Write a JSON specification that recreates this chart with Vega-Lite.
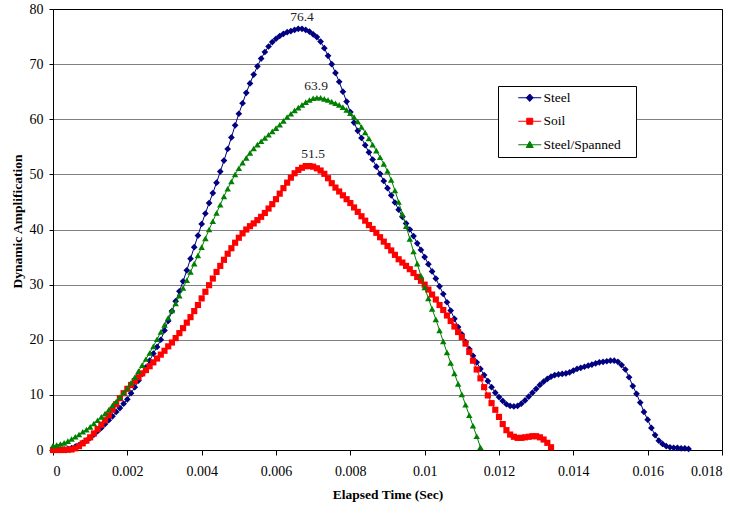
{
  "$schema": "https://vega.github.io/schema/vega-lite/v6.json",
  "width": 669,
  "height": 441,
  "autosize": {"type": "none"},
  "padding": {"left": 53, "top": 9, "right": 18, "bottom": 55},
  "background": "white",
  "config": {
    "font": "Liberation Serif",
    "view": {"stroke": "#000", "strokeWidth": 1},
    "axis": {
      "labelFont": "Liberation Serif", "labelFontSize": 14, "labelColor": "#000",
      "titleFont": "Liberation Serif", "titleFontSize": 13.5, "titleFontWeight": "bold", "titleColor": "#000",
      "domainColor": "#000", "tickColor": "#000", "domainWidth": 1, "tickWidth": 1
    },
    "legend": {"labelFont": "Liberation Serif"},
    "text": {"font": "Liberation Serif"}
  },
  "data": {"values": [
    {"s":"Steel","t":0,"v":0},{"s":"Steel","t":0.0001,"v":0},{"s":"Steel","t":0.0002,"v":0.05},{"s":"Steel","t":0.0003,"v":0.1},{"s":"Steel","t":0.0004,"v":0.2},{"s":"Steel","t":0.0005,"v":0.35},{"s":"Steel","t":0.0006,"v":0.6},{"s":"Steel","t":0.0007,"v":0.9},{"s":"Steel","t":0.0008,"v":1.3},{"s":"Steel","t":0.0009,"v":1.7},
    {"s":"Steel","t":0.001,"v":2.2},{"s":"Steel","t":0.0011,"v":2.8},{"s":"Steel","t":0.0012,"v":3.4},{"s":"Steel","t":0.0013,"v":4.0},{"s":"Steel","t":0.0014,"v":4.7},{"s":"Steel","t":0.0015,"v":5.4},{"s":"Steel","t":0.0016,"v":6.1},{"s":"Steel","t":0.0017,"v":6.9},{"s":"Steel","t":0.0018,"v":7.6},{"s":"Steel","t":0.0019,"v":8.4},
    {"s":"Steel","t":0.002,"v":9.2},{"s":"Steel","t":0.0021,"v":10.3},{"s":"Steel","t":0.0022,"v":11.4},{"s":"Steel","t":0.0023,"v":12.6},{"s":"Steel","t":0.0024,"v":13.8},{"s":"Steel","t":0.0025,"v":15.0},{"s":"Steel","t":0.0026,"v":16.2},{"s":"Steel","t":0.0027,"v":17.5},{"s":"Steel","t":0.0028,"v":18.7},{"s":"Steel","t":0.0029,"v":20.0},
    {"s":"Steel","t":0.003,"v":21.7},{"s":"Steel","t":0.0031,"v":23.4},{"s":"Steel","t":0.0032,"v":25.2},{"s":"Steel","t":0.0033,"v":27.0},{"s":"Steel","t":0.0034,"v":28.8},{"s":"Steel","t":0.0035,"v":30.6},{"s":"Steel","t":0.0036,"v":32.6},{"s":"Steel","t":0.0037,"v":34.7},{"s":"Steel","t":0.0038,"v":36.8},{"s":"Steel","t":0.0039,"v":38.9},
    {"s":"Steel","t":0.004,"v":41.0},{"s":"Steel","t":0.0041,"v":42.9},{"s":"Steel","t":0.0042,"v":44.8},{"s":"Steel","t":0.0043,"v":46.6},{"s":"Steel","t":0.0044,"v":48.5},{"s":"Steel","t":0.0045,"v":50.5},{"s":"Steel","t":0.0046,"v":52.5},{"s":"Steel","t":0.0047,"v":54.6},{"s":"Steel","t":0.0048,"v":56.7},{"s":"Steel","t":0.0049,"v":58.9},
    {"s":"Steel","t":0.005,"v":61.0},{"s":"Steel","t":0.0051,"v":62.9},{"s":"Steel","t":0.0052,"v":64.8},{"s":"Steel","t":0.0053,"v":66.5},{"s":"Steel","t":0.0054,"v":68.1},{"s":"Steel","t":0.0055,"v":69.6},{"s":"Steel","t":0.0056,"v":71.0},{"s":"Steel","t":0.0057,"v":72.2},{"s":"Steel","t":0.0058,"v":73.2},{"s":"Steel","t":0.0059,"v":74.0},
    {"s":"Steel","t":0.006,"v":74.6},{"s":"Steel","t":0.0061,"v":75.1},{"s":"Steel","t":0.0062,"v":75.5},{"s":"Steel","t":0.0063,"v":75.8},{"s":"Steel","t":0.0064,"v":76.0},{"s":"Steel","t":0.0065,"v":76.2},{"s":"Steel","t":0.0066,"v":76.4},{"s":"Steel","t":0.0067,"v":76.4},{"s":"Steel","t":0.0068,"v":76.2},{"s":"Steel","t":0.0069,"v":75.9},
    {"s":"Steel","t":0.007,"v":75.4},{"s":"Steel","t":0.0071,"v":74.9},{"s":"Steel","t":0.0072,"v":74.1},{"s":"Steel","t":0.0073,"v":72.9},{"s":"Steel","t":0.0074,"v":71.5},{"s":"Steel","t":0.0075,"v":70.0},{"s":"Steel","t":0.0076,"v":68.4},{"s":"Steel","t":0.0077,"v":66.8},{"s":"Steel","t":0.0078,"v":65.0},{"s":"Steel","t":0.0079,"v":63.2},
    {"s":"Steel","t":0.008,"v":61.3},{"s":"Steel","t":0.0081,"v":59.4},{"s":"Steel","t":0.0082,"v":57.9},{"s":"Steel","t":0.0083,"v":56.6},{"s":"Steel","t":0.0084,"v":55.3},{"s":"Steel","t":0.0085,"v":54.0},{"s":"Steel","t":0.0086,"v":52.7},{"s":"Steel","t":0.0087,"v":51.4},{"s":"Steel","t":0.0088,"v":50.1},{"s":"Steel","t":0.0089,"v":48.8},
    {"s":"Steel","t":0.009,"v":47.5},{"s":"Steel","t":0.0091,"v":46.2},{"s":"Steel","t":0.0092,"v":44.9},{"s":"Steel","t":0.0093,"v":43.6},{"s":"Steel","t":0.0094,"v":42.3},{"s":"Steel","t":0.0095,"v":41.1},{"s":"Steel","t":0.0096,"v":40.0},{"s":"Steel","t":0.0097,"v":38.8},{"s":"Steel","t":0.0098,"v":37.5},{"s":"Steel","t":0.0099,"v":36.3},
    {"s":"Steel","t":0.01,"v":35.0},{"s":"Steel","t":0.0101,"v":33.7},{"s":"Steel","t":0.0102,"v":32.4},{"s":"Steel","t":0.0103,"v":31.1},{"s":"Steel","t":0.0104,"v":29.7},{"s":"Steel","t":0.0105,"v":28.3},{"s":"Steel","t":0.0106,"v":26.8},{"s":"Steel","t":0.0107,"v":25.3},{"s":"Steel","t":0.0108,"v":23.8},{"s":"Steel","t":0.0109,"v":22.3},
    {"s":"Steel","t":0.011,"v":21.0},{"s":"Steel","t":0.0111,"v":19.6},{"s":"Steel","t":0.0112,"v":18.3},{"s":"Steel","t":0.0113,"v":17.1},{"s":"Steel","t":0.0114,"v":15.9},{"s":"Steel","t":0.0115,"v":14.7},{"s":"Steel","t":0.0116,"v":13.6},{"s":"Steel","t":0.0117,"v":12.5},{"s":"Steel","t":0.0118,"v":11.4},{"s":"Steel","t":0.0119,"v":10.4},
    {"s":"Steel","t":0.012,"v":9.6},{"s":"Steel","t":0.0121,"v":8.9},{"s":"Steel","t":0.0122,"v":8.3},{"s":"Steel","t":0.0123,"v":8.0},{"s":"Steel","t":0.0124,"v":7.9},{"s":"Steel","t":0.0125,"v":8.0},{"s":"Steel","t":0.0126,"v":8.4},{"s":"Steel","t":0.0127,"v":9.0},{"s":"Steel","t":0.0128,"v":9.7},{"s":"Steel","t":0.0129,"v":10.4},
    {"s":"Steel","t":0.013,"v":11.1},{"s":"Steel","t":0.0131,"v":11.8},{"s":"Steel","t":0.0132,"v":12.4},{"s":"Steel","t":0.0133,"v":12.9},{"s":"Steel","t":0.0134,"v":13.3},{"s":"Steel","t":0.0135,"v":13.6},{"s":"Steel","t":0.0136,"v":13.7},{"s":"Steel","t":0.0137,"v":13.8},{"s":"Steel","t":0.0138,"v":13.9},{"s":"Steel","t":0.0139,"v":14.1},
    {"s":"Steel","t":0.014,"v":14.4},{"s":"Steel","t":0.0141,"v":14.7},{"s":"Steel","t":0.0142,"v":14.9},{"s":"Steel","t":0.0143,"v":15.1},{"s":"Steel","t":0.0144,"v":15.3},{"s":"Steel","t":0.0145,"v":15.5},{"s":"Steel","t":0.0146,"v":15.7},{"s":"Steel","t":0.0147,"v":15.9},{"s":"Steel","t":0.0148,"v":16.0},{"s":"Steel","t":0.0149,"v":16.1},
    {"s":"Steel","t":0.015,"v":16.2},{"s":"Steel","t":0.0151,"v":16.2},{"s":"Steel","t":0.0152,"v":16.0},{"s":"Steel","t":0.0153,"v":15.4},{"s":"Steel","t":0.0154,"v":14.6},{"s":"Steel","t":0.0155,"v":13.2},{"s":"Steel","t":0.0156,"v":11.6},{"s":"Steel","t":0.0157,"v":10.2},{"s":"Steel","t":0.0158,"v":8.6},{"s":"Steel","t":0.0159,"v":6.9},
    {"s":"Steel","t":0.016,"v":5.5},{"s":"Steel","t":0.0161,"v":4.0},{"s":"Steel","t":0.0162,"v":2.7},{"s":"Steel","t":0.0163,"v":1.7},{"s":"Steel","t":0.0164,"v":1.1},{"s":"Steel","t":0.0165,"v":0.7},{"s":"Steel","t":0.0166,"v":0.5},{"s":"Steel","t":0.0167,"v":0.4},{"s":"Steel","t":0.0168,"v":0.4},{"s":"Steel","t":0.0169,"v":0.3},
    {"s":"Steel","t":0.017,"v":0.3},{"s":"Steel","t":0.0171,"v":0.2},

    {"s":"Soil","t":0,"v":0},{"s":"Soil","t":0.0001,"v":0},{"s":"Soil","t":0.0002,"v":0},{"s":"Soil","t":0.0003,"v":0},{"s":"Soil","t":0.0004,"v":0.05},{"s":"Soil","t":0.0005,"v":0.1},{"s":"Soil","t":0.0006,"v":0.3},{"s":"Soil","t":0.0007,"v":0.7},{"s":"Soil","t":0.0008,"v":1.2},{"s":"Soil","t":0.0009,"v":1.7},
    {"s":"Soil","t":0.001,"v":2.3},{"s":"Soil","t":0.0011,"v":3.0},{"s":"Soil","t":0.0012,"v":3.8},{"s":"Soil","t":0.0013,"v":4.6},{"s":"Soil","t":0.0014,"v":5.4},{"s":"Soil","t":0.0015,"v":6.3},{"s":"Soil","t":0.0016,"v":7.3},{"s":"Soil","t":0.0017,"v":8.3},{"s":"Soil","t":0.0018,"v":9.4},{"s":"Soil","t":0.0019,"v":10.3},
    {"s":"Soil","t":0.002,"v":11.1},{"s":"Soil","t":0.0021,"v":11.8},{"s":"Soil","t":0.0022,"v":12.5},{"s":"Soil","t":0.0023,"v":13.2},{"s":"Soil","t":0.0024,"v":13.9},{"s":"Soil","t":0.0025,"v":14.5},{"s":"Soil","t":0.0026,"v":15.2},{"s":"Soil","t":0.0027,"v":15.9},{"s":"Soil","t":0.0028,"v":16.6},{"s":"Soil","t":0.0029,"v":17.3},
    {"s":"Soil","t":0.003,"v":18.0},{"s":"Soil","t":0.0031,"v":18.8},{"s":"Soil","t":0.0032,"v":19.5},{"s":"Soil","t":0.0033,"v":20.3},{"s":"Soil","t":0.0034,"v":21.2},{"s":"Soil","t":0.0035,"v":22.1},{"s":"Soil","t":0.0036,"v":23.1},{"s":"Soil","t":0.0037,"v":24.1},{"s":"Soil","t":0.0038,"v":25.2},{"s":"Soil","t":0.0039,"v":26.3},
    {"s":"Soil","t":0.004,"v":27.5},{"s":"Soil","t":0.0041,"v":28.7},{"s":"Soil","t":0.0042,"v":29.9},{"s":"Soil","t":0.0043,"v":31.1},{"s":"Soil","t":0.0044,"v":32.3},{"s":"Soil","t":0.0045,"v":33.4},{"s":"Soil","t":0.0046,"v":34.5},{"s":"Soil","t":0.0047,"v":35.6},{"s":"Soil","t":0.0048,"v":36.6},{"s":"Soil","t":0.0049,"v":37.6},
    {"s":"Soil","t":0.005,"v":38.5},{"s":"Soil","t":0.0051,"v":39.3},{"s":"Soil","t":0.0052,"v":40.0},{"s":"Soil","t":0.0053,"v":40.6},{"s":"Soil","t":0.0054,"v":41.1},{"s":"Soil","t":0.0055,"v":41.7},{"s":"Soil","t":0.0056,"v":42.3},{"s":"Soil","t":0.0057,"v":43.0},{"s":"Soil","t":0.0058,"v":43.8},{"s":"Soil","t":0.0059,"v":44.6},
    {"s":"Soil","t":0.006,"v":45.5},{"s":"Soil","t":0.0061,"v":46.5},{"s":"Soil","t":0.0062,"v":47.5},{"s":"Soil","t":0.0063,"v":48.5},{"s":"Soil","t":0.0064,"v":49.4},{"s":"Soil","t":0.0065,"v":50.2},{"s":"Soil","t":0.0066,"v":50.8},{"s":"Soil","t":0.0067,"v":51.2},{"s":"Soil","t":0.0068,"v":51.5},{"s":"Soil","t":0.0069,"v":51.5},
    {"s":"Soil","t":0.007,"v":51.4},{"s":"Soil","t":0.0071,"v":51.1},{"s":"Soil","t":0.0072,"v":50.7},{"s":"Soil","t":0.0073,"v":50.1},{"s":"Soil","t":0.0074,"v":49.3},{"s":"Soil","t":0.0075,"v":48.4},{"s":"Soil","t":0.0076,"v":47.6},{"s":"Soil","t":0.0077,"v":46.9},{"s":"Soil","t":0.0078,"v":46.2},{"s":"Soil","t":0.0079,"v":45.5},
    {"s":"Soil","t":0.008,"v":44.8},{"s":"Soil","t":0.0081,"v":44.0},{"s":"Soil","t":0.0082,"v":43.2},{"s":"Soil","t":0.0083,"v":42.4},{"s":"Soil","t":0.0084,"v":41.6},{"s":"Soil","t":0.0085,"v":40.8},{"s":"Soil","t":0.0086,"v":40.1},{"s":"Soil","t":0.0087,"v":39.4},{"s":"Soil","t":0.0088,"v":38.6},{"s":"Soil","t":0.0089,"v":37.8},
    {"s":"Soil","t":0.009,"v":37.0},{"s":"Soil","t":0.0091,"v":36.2},{"s":"Soil","t":0.0092,"v":35.4},{"s":"Soil","t":0.0093,"v":34.6},{"s":"Soil","t":0.0094,"v":34.0},{"s":"Soil","t":0.0095,"v":33.4},{"s":"Soil","t":0.0096,"v":32.8},{"s":"Soil","t":0.0097,"v":32.1},{"s":"Soil","t":0.0098,"v":31.4},{"s":"Soil","t":0.0099,"v":30.7},
    {"s":"Soil","t":0.01,"v":30.0},{"s":"Soil","t":0.0101,"v":29.1},{"s":"Soil","t":0.0102,"v":28.2},{"s":"Soil","t":0.0103,"v":27.3},{"s":"Soil","t":0.0104,"v":26.3},{"s":"Soil","t":0.0105,"v":25.4},{"s":"Soil","t":0.0106,"v":24.4},{"s":"Soil","t":0.0107,"v":23.4},{"s":"Soil","t":0.0108,"v":22.4},{"s":"Soil","t":0.0109,"v":21.4},
    {"s":"Soil","t":0.011,"v":20.5},{"s":"Soil","t":0.0111,"v":19.3},{"s":"Soil","t":0.0112,"v":17.8},{"s":"Soil","t":0.0113,"v":16.2},{"s":"Soil","t":0.0114,"v":14.6},{"s":"Soil","t":0.0115,"v":13.0},{"s":"Soil","t":0.0116,"v":11.4},{"s":"Soil","t":0.0117,"v":9.9},{"s":"Soil","t":0.0118,"v":8.5},{"s":"Soil","t":0.0119,"v":7.3},
    {"s":"Soil","t":0.012,"v":6.0},{"s":"Soil","t":0.0121,"v":4.7},{"s":"Soil","t":0.0122,"v":3.6},{"s":"Soil","t":0.0123,"v":2.8},{"s":"Soil","t":0.0124,"v":2.4},{"s":"Soil","t":0.0125,"v":2.2},{"s":"Soil","t":0.0126,"v":2.2},{"s":"Soil","t":0.0127,"v":2.3},{"s":"Soil","t":0.0128,"v":2.4},{"s":"Soil","t":0.0129,"v":2.5},
    {"s":"Soil","t":0.013,"v":2.5},{"s":"Soil","t":0.0131,"v":2.3},{"s":"Soil","t":0.0132,"v":1.9},{"s":"Soil","t":0.0133,"v":1.3},{"s":"Soil","t":0.0134,"v":0.5},

    {"s":"Steel/Spanned","t":0,"v":0.8},{"s":"Steel/Spanned","t":0.0001,"v":0.9},{"s":"Steel/Spanned","t":0.0002,"v":1.1},{"s":"Steel/Spanned","t":0.0003,"v":1.3},{"s":"Steel/Spanned","t":0.0004,"v":1.6},{"s":"Steel/Spanned","t":0.0005,"v":2.0},{"s":"Steel/Spanned","t":0.0006,"v":2.4},{"s":"Steel/Spanned","t":0.0007,"v":2.8},{"s":"Steel/Spanned","t":0.0008,"v":3.3},{"s":"Steel/Spanned","t":0.0009,"v":3.7},
    {"s":"Steel/Spanned","t":0.001,"v":4.2},{"s":"Steel/Spanned","t":0.0011,"v":4.8},{"s":"Steel/Spanned","t":0.0012,"v":5.4},{"s":"Steel/Spanned","t":0.0013,"v":6.0},{"s":"Steel/Spanned","t":0.0014,"v":6.6},{"s":"Steel/Spanned","t":0.0015,"v":7.3},{"s":"Steel/Spanned","t":0.0016,"v":8.1},{"s":"Steel/Spanned","t":0.0017,"v":8.8},{"s":"Steel/Spanned","t":0.0018,"v":9.6},{"s":"Steel/Spanned","t":0.0019,"v":10.4},
    {"s":"Steel/Spanned","t":0.002,"v":11.2},{"s":"Steel/Spanned","t":0.0021,"v":12.2},{"s":"Steel/Spanned","t":0.0022,"v":13.2},{"s":"Steel/Spanned","t":0.0023,"v":14.3},{"s":"Steel/Spanned","t":0.0024,"v":15.4},{"s":"Steel/Spanned","t":0.0025,"v":16.5},{"s":"Steel/Spanned","t":0.0026,"v":17.6},{"s":"Steel/Spanned","t":0.0027,"v":18.8},{"s":"Steel/Spanned","t":0.0028,"v":20.1},{"s":"Steel/Spanned","t":0.0029,"v":21.4},
    {"s":"Steel/Spanned","t":0.003,"v":22.7},{"s":"Steel/Spanned","t":0.0031,"v":24.0},{"s":"Steel/Spanned","t":0.0032,"v":25.3},{"s":"Steel/Spanned","t":0.0033,"v":26.6},{"s":"Steel/Spanned","t":0.0034,"v":28.0},{"s":"Steel/Spanned","t":0.0035,"v":29.4},{"s":"Steel/Spanned","t":0.0036,"v":30.8},{"s":"Steel/Spanned","t":0.0037,"v":32.3},{"s":"Steel/Spanned","t":0.0038,"v":33.8},{"s":"Steel/Spanned","t":0.0039,"v":35.3},
    {"s":"Steel/Spanned","t":0.004,"v":36.8},{"s":"Steel/Spanned","t":0.0041,"v":38.4},{"s":"Steel/Spanned","t":0.0042,"v":40.0},{"s":"Steel/Spanned","t":0.0043,"v":41.5},{"s":"Steel/Spanned","t":0.0044,"v":43.0},{"s":"Steel/Spanned","t":0.0045,"v":44.5},{"s":"Steel/Spanned","t":0.0046,"v":46.0},{"s":"Steel/Spanned","t":0.0047,"v":47.4},{"s":"Steel/Spanned","t":0.0048,"v":48.7},{"s":"Steel/Spanned","t":0.0049,"v":50.0},
    {"s":"Steel/Spanned","t":0.005,"v":51.1},{"s":"Steel/Spanned","t":0.0051,"v":52.1},{"s":"Steel/Spanned","t":0.0052,"v":53.0},{"s":"Steel/Spanned","t":0.0053,"v":53.9},{"s":"Steel/Spanned","t":0.0054,"v":54.7},{"s":"Steel/Spanned","t":0.0055,"v":55.4},{"s":"Steel/Spanned","t":0.0056,"v":56.0},{"s":"Steel/Spanned","t":0.0057,"v":56.6},{"s":"Steel/Spanned","t":0.0058,"v":57.2},{"s":"Steel/Spanned","t":0.0059,"v":57.8},
    {"s":"Steel/Spanned","t":0.006,"v":58.4},{"s":"Steel/Spanned","t":0.0061,"v":59.0},{"s":"Steel/Spanned","t":0.0062,"v":59.7},{"s":"Steel/Spanned","t":0.0063,"v":60.4},{"s":"Steel/Spanned","t":0.0064,"v":61.0},{"s":"Steel/Spanned","t":0.0065,"v":61.6},{"s":"Steel/Spanned","t":0.0066,"v":62.1},{"s":"Steel/Spanned","t":0.0067,"v":62.6},{"s":"Steel/Spanned","t":0.0068,"v":63.1},{"s":"Steel/Spanned","t":0.0069,"v":63.5},
    {"s":"Steel/Spanned","t":0.007,"v":63.8},{"s":"Steel/Spanned","t":0.0071,"v":63.9},{"s":"Steel/Spanned","t":0.0072,"v":63.9},{"s":"Steel/Spanned","t":0.0073,"v":63.7},{"s":"Steel/Spanned","t":0.0074,"v":63.5},{"s":"Steel/Spanned","t":0.0075,"v":63.2},{"s":"Steel/Spanned","t":0.0076,"v":62.9},{"s":"Steel/Spanned","t":0.0077,"v":62.6},{"s":"Steel/Spanned","t":0.0078,"v":62.2},{"s":"Steel/Spanned","t":0.0079,"v":61.7},
    {"s":"Steel/Spanned","t":0.008,"v":61.1},{"s":"Steel/Spanned","t":0.0081,"v":60.4},{"s":"Steel/Spanned","t":0.0082,"v":59.6},{"s":"Steel/Spanned","t":0.0083,"v":58.6},{"s":"Steel/Spanned","t":0.0084,"v":57.6},{"s":"Steel/Spanned","t":0.0085,"v":56.5},{"s":"Steel/Spanned","t":0.0086,"v":55.4},{"s":"Steel/Spanned","t":0.0087,"v":54.3},{"s":"Steel/Spanned","t":0.0088,"v":53.1},{"s":"Steel/Spanned","t":0.0089,"v":51.9},
    {"s":"Steel/Spanned","t":0.009,"v":50.6},{"s":"Steel/Spanned","t":0.0091,"v":49.0},{"s":"Steel/Spanned","t":0.0092,"v":47.1},{"s":"Steel/Spanned","t":0.0093,"v":45.0},{"s":"Steel/Spanned","t":0.0094,"v":42.8},{"s":"Steel/Spanned","t":0.0095,"v":40.6},{"s":"Steel/Spanned","t":0.0096,"v":38.3},{"s":"Steel/Spanned","t":0.0097,"v":36.0},{"s":"Steel/Spanned","t":0.0098,"v":33.8},{"s":"Steel/Spanned","t":0.0099,"v":31.6},
    {"s":"Steel/Spanned","t":0.01,"v":29.5},{"s":"Steel/Spanned","t":0.0101,"v":27.5},{"s":"Steel/Spanned","t":0.0102,"v":25.6},{"s":"Steel/Spanned","t":0.0103,"v":23.7},{"s":"Steel/Spanned","t":0.0104,"v":21.7},{"s":"Steel/Spanned","t":0.0105,"v":19.7},{"s":"Steel/Spanned","t":0.0106,"v":17.7},{"s":"Steel/Spanned","t":0.0107,"v":15.8},{"s":"Steel/Spanned","t":0.0108,"v":13.9},{"s":"Steel/Spanned","t":0.0109,"v":12.0},
    {"s":"Steel/Spanned","t":0.011,"v":10.1},{"s":"Steel/Spanned","t":0.0111,"v":8.2},{"s":"Steel/Spanned","t":0.0112,"v":6.3},{"s":"Steel/Spanned","t":0.0113,"v":4.4},{"s":"Steel/Spanned","t":0.0114,"v":2.5},{"s":"Steel/Spanned","t":0.0115,"v":0.5}
  ]},
  "encoding": {
    "x": {
      "field": "t", "type": "quantitative",
      "scale": {"domain": [0, 0.018], "nice": false, "zero": false},
      "axis": {
        "values": [0, 0.002, 0.004, 0.006, 0.008, 0.01, 0.012, 0.014, 0.016, 0.018],
        "format": "~g", "grid": false, "tickSize": 5, "labelPadding": 9,
        "title": "Elapsed Time (Sec)", "titleY": 44, "titleBaseline": "middle"
      }
    },
    "y": {
      "field": "v", "type": "quantitative",
      "scale": {"domain": [0, 80], "nice": false},
      "axis": {
        "values": [0, 10, 20, 30, 40, 50, 60, 70, 80],
        "grid": true,
        "gridColor": {"condition": {"test": "datum.value === 80 || datum.value === 0", "value": "#000000"}, "value": "#808080"},
        "gridWidth": 1, "tickSize": 4, "labelPadding": 6,
        "title": "Dynamic Amplification", "titleX": -36, "titleY": 212, "titleAngle": -90,
        "titleBaseline": "middle", "titleAlign": "center"
      }
    }
  },
  "layer": [
    {
      "transform": [{"filter": "datum.s === 'Steel'"}],
      "mark": {"type": "line", "strokeWidth": 1},
      "encoding": {
        "color": {
          "field": "s", "type": "nominal",
          "scale": {"domain": ["Steel", "Soil", "Steel/Spanned"], "range": ["#000080", "#ff0000", "#008000"]},
          "legend": {
            "orient": "none", "legendX": 445, "legendY": 77, "title": null,
            "padding": 5, "fillColor": "#ffffff", "strokeColor": "#000000",
            "symbolSize": 100, "symbolOffset": 20, "labelOffset": 7, "rowPadding": 8.5,
            "labelFont": "Liberation Serif", "labelFontSize": 13.5, "labelColor": "#000000",
            "labelExpr": "datum.label + '\u00a0\u00a0\u00a0\u200b'",
            "encode": {
              "symbols": {
                "update": {
                  "shape": {"signal": "datum.value === 'Steel' ? 'M-2.3,0H2.3M0,-0.75L0.7,0L0,0.75L-0.7,0Z' : datum.value === 'Soil' ? 'M-2.3,0H2.3M-0.6,-0.6H0.6V0.6H-0.6Z' : 'M-2.3,0H2.3M0,-0.7L0.7,0.55H-0.7Z'"},
                  "fill": {"signal": "datum.value === 'Steel' ? '#000080' : datum.value === 'Soil' ? '#ff0000' : '#008000'"},
                  "stroke": {"signal": "datum.value === 'Steel' ? '#000080' : datum.value === 'Soil' ? '#ff0000' : '#008000'"},
                  "strokeWidth": {"value": 1},
                  "opacity": {"value": 1}
                }
              }
            }
          }
        }
      }
    },
    {
      "transform": [{"filter": "datum.s === 'Steel'"}],
      "mark": {"type": "point", "shape": "diamond", "filled": true, "size": 45, "opacity": 1},
      "encoding": {"color": {"field": "s", "type": "nominal", "scale": {"domain": ["Steel", "Soil", "Steel/Spanned"], "range": ["#000080", "#ff0000", "#008000"]}}}
    },
    {
      "transform": [{"filter": "datum.s === 'Soil'"}],
      "mark": {"type": "line", "strokeWidth": 1},
      "encoding": {"color": {"field": "s", "type": "nominal", "scale": {"domain": ["Steel", "Soil", "Steel/Spanned"], "range": ["#000080", "#ff0000", "#008000"]}}}
    },
    {
      "transform": [{"filter": "datum.s === 'Soil'"}],
      "mark": {"type": "point", "shape": "square", "filled": true, "size": 38, "opacity": 1},
      "encoding": {"color": {"field": "s", "type": "nominal", "scale": {"domain": ["Steel", "Soil", "Steel/Spanned"], "range": ["#000080", "#ff0000", "#008000"]}}}
    },
    {
      "transform": [{"filter": "datum.s === 'Steel/Spanned'"}],
      "mark": {"type": "line", "strokeWidth": 1},
      "encoding": {"color": {"field": "s", "type": "nominal", "scale": {"domain": ["Steel", "Soil", "Steel/Spanned"], "range": ["#000080", "#ff0000", "#008000"]}}}
    },
    {
      "transform": [{"filter": "datum.s === 'Steel/Spanned'"}],
      "mark": {"type": "point", "shape": "triangle-up", "filled": true, "size": 42, "opacity": 1},
      "encoding": {"color": {"field": "s", "type": "nominal", "scale": {"domain": ["Steel", "Soil", "Steel/Spanned"], "range": ["#000080", "#ff0000", "#008000"]}}}
    },
    {
      "data": {"values": [
        {"label": "76.4", "t": 0.0067, "v": 76.4},
        {"label": "63.9", "t": 0.00708, "v": 63.9},
        {"label": "51.5", "t": 0.0070, "v": 51.5}
      ]},
      "mark": {"type": "text", "dy": -12, "fontSize": 13.5, "font": "Liberation Serif", "color": "#222222", "baseline": "middle"},
      "encoding": {"text": {"field": "label", "type": "nominal"}}
    }
  ]
}
